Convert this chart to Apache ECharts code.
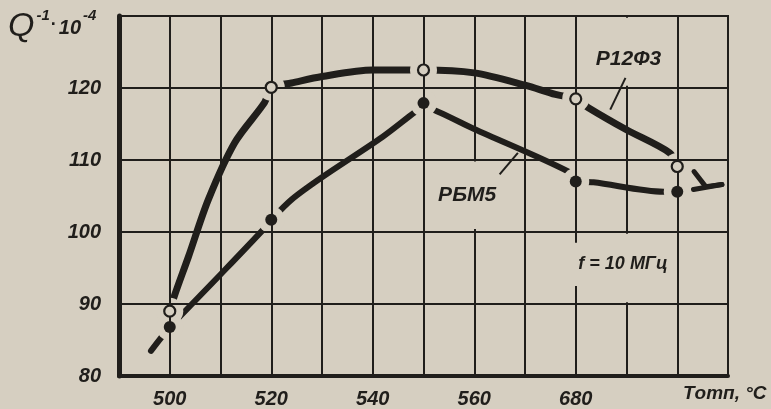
<!DOCTYPE html>
<html>
<head>
<meta charset="utf-8">
<script src="https://cdn.jsdelivr.net/npm/echarts@6/dist/echarts.min.js"></script>
<style>
html,body{margin:0;padding:0;background:#d6cfc1;}
#c{width:771px;height:409px;}
</style>
</head>
<body>
<div id="c"></div>
<script>
// ---- data ----
const xMin = 490, xMax = 610, xStep = 10;
const yMin = 80, yMax = 130, yStep = 10;
const xTickValues = [500, 520, 540, 560, 580];
const xTickTexts = ['500', '520', '540', '560', '680'];
const yTickValues = [80, 90, 100, 110, 120];

// measured points
const p12Points = [[500, 89.0], [520, 120.1], [550, 122.5], [580, 118.5], [600, 109.1]];
const rbmPoints = [[500, 86.8], [520, 101.7], [550, 117.9], [580, 107.0], [600, 105.6]];

// hand-drawn curves
const p12Curve = [[500, 89.0], [501, 91.3], [503.7, 96.6], [507.6, 104.5], [512.8, 112.4], [518.7, 118.0], [520, 120.1],
  [524, 120.7], [530, 121.6], [540, 122.5], [550, 122.5], [560, 122.1], [570, 120.4], [576, 119.1], [580, 118.5],
  [582.4, 117.3], [590, 114.2], [598.5, 111.0], [600, 109.1]];
const rbmCurve = [[496.3, 83.5], [500, 86.8], [501.9, 88.2], [510, 94.1], [518.5, 100.4], [520, 101.7],
  [524, 104.5], [530, 107.6], [541.9, 113.2], [548.4, 116.7], [550, 117.4], [553.2, 116.6], [560, 114.3],
  [578.5, 108.4], [580, 107.0], [583.5, 106.9], [597.3, 105.6], [600, 105.6]];

// annotations
const leaderP12 = [[589.8, 121.4], [586.8, 117.0]];
const leaderRbm = [[565.0, 108.0], [568.6, 111.0]];
const arrowA = [[603.3, 108.4], [605.6, 106.3], [608.8, 106.6]];
const arrowB = [[603.2, 105.9], [608.8, 106.6]];
const labelNames = ['Р12Ф3', 'РБМ5', 'f = 10 МГц'];
const labelPos = [[590.4, 124.05], [558.6, 105.14], [589.3, 95.6]];
// breaks in the grid lines where the labels were lettered: [x, yFrom, yTo]
const gridBreaks = [[590, 129.75, 120.3], [560, 109.8, 100.4], [590, 99.75, 90.25], [580, 98.5, 92.5]];

// ---- styling ----
const BG = '#d6cfc1';
const INK = '#201e1b';
const FONT = '"Liberation Sans", Arial, sans-serif';
const labelSizes = [21, 21, 18];

const chart = echarts.init(document.getElementById('c'), null, {renderer: 'canvas'});

function lineSeries(data, width, z) {
  return {
    type: 'line', data: data, smooth: 0.3, symbol: 'none', z: z, silent: true,
    lineStyle: {color: INK, width: width, cap: 'round', join: 'round'}
  };
}

const breakSeries = gridBreaks.map(b => ({
  type: 'line', data: [[b[0], b[1]], [b[0], b[2]]], symbol: 'none', z: 1, silent: true,
  lineStyle: {color: BG, width: 5, cap: 'butt'}
}));

const option = {
  backgroundColor: BG,
  animation: false,
  grid: {left: 119, right: 43, top: 16, bottom: 32, show: true, borderColor: INK, borderWidth: 2, backgroundColor: 'transparent'},
  xAxis: {
    type: 'value', min: xMin, max: xMax, interval: xStep,
    axisLine: {show: true, onZero: false, lineStyle: {color: INK, width: 4}},
    axisTick: {show: false},
    splitLine: {show: true, lineStyle: {color: INK, width: 2}},
    axisLabel: {
      margin: 13, color: INK, fontSize: 20, fontStyle: 'italic', fontWeight: 'bold', fontFamily: FONT,
      formatter: v => { const i = xTickValues.indexOf(v); return i >= 0 ? xTickTexts[i] : ''; }
    }
  },
  yAxis: {
    type: 'value', min: yMin, max: yMax, interval: yStep,
    axisLine: {show: true, onZero: false, lineStyle: {color: INK, width: 5}},
    axisTick: {show: false},
    splitLine: {show: true, lineStyle: {color: INK, width: 2}},
    axisLabel: {
      margin: 18, color: INK, fontSize: 20, fontStyle: 'italic', fontWeight: 'bold', fontFamily: FONT,
      formatter: v => yTickValues.indexOf(v) >= 0 ? String(v) : ''
    }
  },
  graphic: [
    {
      type: 'text', left: 8, top: 6, z: 10,
      style: {
        text: '{q|Q}{s|-1}{d|·}{n|10}{s|-4}',
        fill: INK,
        rich: {
          q: {fontSize: 34, fontStyle: 'italic', fontFamily: FONT, fill: INK, verticalAlign: 'bottom', lineHeight: 38},
          s: {fontSize: 15, fontStyle: 'italic', fontWeight: 'bold', fontFamily: FONT, fill: INK, verticalAlign: 'top', lineHeight: 38, padding: [2, 1, 0, 2]},
          d: {fontSize: 18, fontWeight: 'bold', fontFamily: FONT, fill: INK, verticalAlign: 'middle', lineHeight: 38},
          n: {fontSize: 20, fontStyle: 'italic', fontWeight: 'bold', fontFamily: FONT, fill: INK, verticalAlign: 'middle', lineHeight: 38, padding: [6, 0, 0, 2]}
        }
      }
    },
    {
      type: 'text', left: 683, top: 384, z: 10,
      style: {text: 'Tотп, °C', fill: INK, font: 'italic bold 19px ' + FONT}
    }
  ],
  series: [
    lineSeries(p12Curve, 7, -3),
    lineSeries(rbmCurve, 6, -3),
    {
      type: 'scatter', data: p12Points.concat(rbmPoints), symbol: 'circle', symbolSize: 27, z: -1, silent: true,
      itemStyle: {color: BG, opacity: 1}
    }
  ].concat(breakSeries, [
    {
      type: 'scatter', data: labelPos.map((p, i) => ({value: p, name: labelNames[i], label: {fontSize: labelSizes[i]}})),
      symbol: 'circle', symbolSize: 1, z: 2, silent: true,
      itemStyle: {color: 'rgba(0,0,0,0)', opacity: 1},
      label: {show: true, position: 'inside', formatter: p => p.name, color: INK, fontStyle: 'italic', fontWeight: 'bold',
        fontFamily: FONT}
    },
    {type: 'line', data: leaderP12, symbol: 'none', z: 3, silent: true, lineStyle: {color: INK, width: 2}},
    {type: 'line', data: leaderRbm, symbol: 'none', z: 3, silent: true, lineStyle: {color: INK, width: 2}},
    {type: 'line', data: arrowA, symbol: 'none', z: 3, silent: true, lineStyle: {color: INK, width: 5, cap: 'round', join: 'round'}},
    {type: 'line', data: arrowB, symbol: 'none', z: 3, silent: true, lineStyle: {color: INK, width: 5, cap: 'round'}},
    {
      type: 'scatter', name: 'Р12Ф3', data: p12Points, symbol: 'circle', symbolSize: 11, z: 5, silent: true,
      itemStyle: {color: BG, borderColor: INK, borderWidth: 2.2, opacity: 1}
    },
    {
      type: 'scatter', name: 'РБМ5', data: rbmPoints, symbol: 'circle', symbolSize: 12, z: 5, silent: true,
      itemStyle: {color: INK, opacity: 1}
    }
  ])
};
chart.setOption(option);
</script>
</body>
</html>
